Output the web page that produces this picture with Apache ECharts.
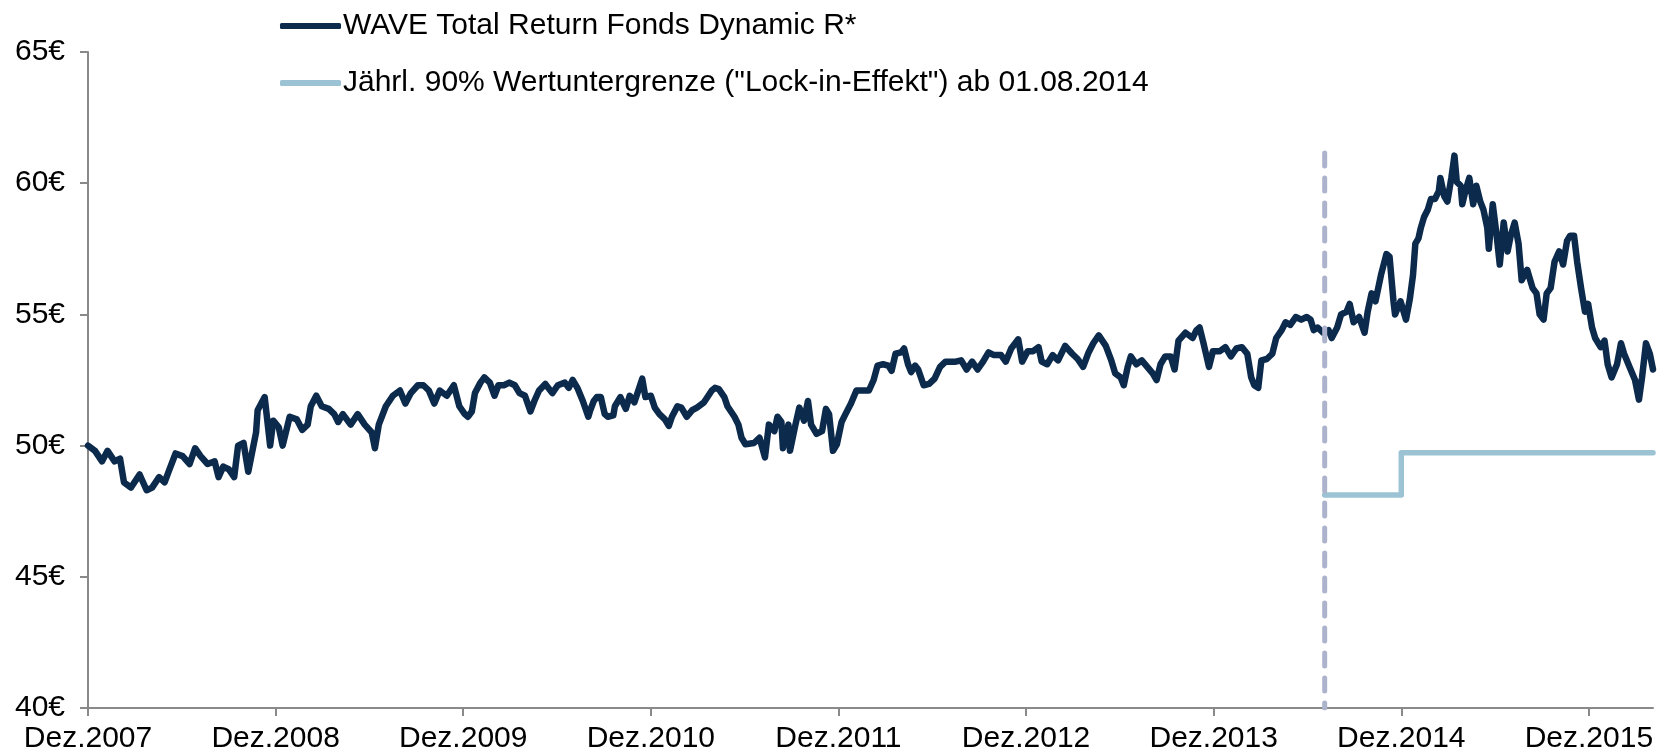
<!DOCTYPE html>
<html>
<head>
<meta charset="utf-8">
<script src="https://cdn.jsdelivr.net/npm/echarts@6/dist/echarts.min.js"></script>
<style>
  html, body { margin: 0; padding: 0; background: #fff; }
  #chart { width: 1669px; height: 755px; }
</style>
</head>
<body>
<div id="chart"></div>
<script>
// x = months after Dez.2007
const xTickMonths = [0, 12, 24, 36, 48, 60, 72, 84, 96];
const xTickLabels = ["Dez.2007", "Dez.2008", "Dez.2009", "Dez.2010", "Dez.2011", "Dez.2012", "Dez.2013", "Dez.2014", "Dez.2015"];
const xMaxMonth = 100.1;

const fundName = "WAVE Total Return Fonds Dynamic R*";
const floorName = 'Jährl. 90% Wertuntergrenze ("Lock-in-Effekt") ab 01.08.2014';

// [month, price in €]
const fundPoints = [
  [0, 50.0], [0.45, 49.8], [0.9, 49.4], [1.25, 49.8], [1.7, 49.4], [2.05, 49.5], [2.3, 48.6], [2.75, 48.4],
  [3.3, 48.9], [3.75, 48.3], [4.1, 48.4], [4.55, 48.8], [4.9, 48.6], [5.15, 49.0], [5.6, 49.7], [6.05, 49.6],
  [6.5, 49.3], [6.85, 49.9], [7.2, 49.6], [7.65, 49.3], [8.1, 49.4], [8.35, 48.8], [8.65, 49.2], [9.0, 49.1],
  [9.35, 48.8], [9.6, 50.0], [9.95, 50.1], [10.25, 49.0], [10.75, 50.5], [10.85, 51.35], [11.3, 51.85], [11.65, 50.0],
  [11.85, 50.95], [12.2, 50.7], [12.45, 50.0], [12.9, 51.1], [13.35, 51.0], [13.7, 50.6], [14.05, 50.8], [14.25, 51.5],
  [14.6, 51.9], [14.95, 51.5], [15.4, 51.4], [15.75, 51.2], [16.0, 50.9], [16.3, 51.2], [16.8, 50.8], [17.25, 51.2],
  [17.7, 50.8], [18.15, 50.5], [18.35, 49.9], [18.6, 50.8], [19.05, 51.5], [19.5, 51.9], [19.95, 52.1], [20.3, 51.6],
  [20.65, 52.0], [21.1, 52.3], [21.45, 52.3], [21.8, 52.1], [22.15, 51.6], [22.5, 52.1], [22.95, 51.9], [23.4, 52.3],
  [23.75, 51.5], [24.1, 51.2], [24.3, 51.1], [24.55, 51.3], [24.75, 52.0], [25.1, 52.4], [25.35, 52.6], [25.7, 52.4],
  [26.0, 51.9], [26.25, 52.3], [26.6, 52.3], [26.95, 52.4], [27.3, 52.3], [27.6, 52.0], [27.95, 51.9], [28.3, 51.3],
  [28.55, 51.7], [28.85, 52.1], [29.25, 52.35], [29.7, 52.0], [30.05, 52.3], [30.5, 52.4], [30.75, 52.2], [31.0, 52.5],
  [31.3, 52.2], [31.65, 51.7], [32.0, 51.1], [32.1, 51.3], [32.35, 51.7], [32.55, 51.85], [32.8, 51.85], [33.05, 51.2],
  [33.25, 51.1], [33.6, 51.15], [33.7, 51.5], [34.05, 51.85], [34.4, 51.4], [34.65, 51.9], [34.95, 51.65], [35.2, 52.1],
  [35.45, 52.55], [35.65, 51.85], [36.0, 51.9], [36.25, 51.45], [36.55, 51.2], [36.9, 51.0], [37.15, 50.75], [37.35, 51.1],
  [37.7, 51.5], [37.95, 51.45], [38.3, 51.1], [38.65, 51.35], [38.95, 51.45], [39.4, 51.65], [39.9, 52.1], [40.1, 52.2],
  [40.35, 52.15], [40.7, 51.85], [40.9, 51.5], [41.35, 51.1], [41.6, 50.8], [41.8, 50.3], [42.05, 50.05], [42.6, 50.1],
  [42.95, 50.3], [43.3, 49.55], [43.55, 50.8], [43.9, 50.55], [44.1, 51.1], [44.35, 50.9], [44.45, 49.9], [44.8, 50.8],
  [44.9, 49.8], [45.25, 50.8], [45.5, 51.45], [45.8, 50.95], [46.05, 51.7], [46.25, 50.8], [46.6, 50.45], [46.95, 50.55],
  [47.2, 51.4], [47.4, 51.2], [47.65, 49.8], [47.9, 50.05], [48.2, 50.9], [48.45, 51.2], [48.8, 51.6], [49.15, 52.1],
  [49.45, 52.1], [49.95, 52.1], [50.25, 52.5], [50.5, 53.05], [50.85, 53.1], [51.2, 53.05], [51.4, 52.85], [51.65, 53.5],
  [52.0, 53.55], [52.2, 53.7], [52.45, 53.1], [52.65, 52.8], [52.9, 53.05], [53.1, 52.9], [53.45, 52.3], [53.8, 52.35],
  [54.15, 52.55], [54.5, 53.0], [54.85, 53.2], [55.2, 53.2], [55.5, 53.2], [55.85, 53.25], [56.2, 52.9], [56.55, 53.2],
  [56.9, 52.9], [57.25, 53.2], [57.6, 53.55], [57.95, 53.45], [58.4, 53.45], [58.7, 53.2], [59.05, 53.7], [59.5, 54.05],
  [59.75, 53.2], [60.1, 53.6], [60.45, 53.6], [60.8, 53.75], [61.0, 53.2], [61.35, 53.1], [61.7, 53.45], [62.05, 53.25],
  [62.5, 53.8], [62.95, 53.5], [63.3, 53.3], [63.65, 53.0], [64.0, 53.55], [64.3, 53.9], [64.65, 54.2], [65.1, 53.8],
  [65.45, 53.25], [65.7, 52.75], [66.05, 52.6], [66.25, 52.3], [66.5, 53.0], [66.7, 53.4], [67.05, 53.1], [67.4, 53.25],
  [67.75, 53.0], [68.1, 52.75], [68.35, 52.5], [68.6, 53.1], [68.9, 53.4], [69.25, 53.4], [69.5, 52.9], [69.75, 54.0],
  [70.2, 54.3], [70.65, 54.1], [70.9, 54.4], [71.1, 54.5], [71.35, 53.9], [71.7, 53.0], [71.95, 53.6], [72.4, 53.6],
  [72.75, 53.75], [73.1, 53.4], [73.45, 53.7], [73.8, 53.75], [74.15, 53.5], [74.4, 52.6], [74.6, 52.3], [74.85, 52.2],
  [75.05, 53.25], [75.4, 53.3], [75.75, 53.5], [76.0, 54.1], [76.35, 54.4], [76.6, 54.7], [76.9, 54.6], [77.25, 54.9],
  [77.6, 54.8], [77.95, 54.9], [78.2, 54.8], [78.4, 54.4], [78.65, 54.5], [79.0, 54.3], [79.35, 54.4], [79.55, 54.1],
  [79.9, 54.5], [80.15, 55.0], [80.5, 55.1], [80.7, 55.4], [80.95, 54.7], [81.3, 54.9], [81.65, 54.3], [81.85, 55.1],
  [82.1, 55.8], [82.35, 55.5], [82.7, 56.5], [83.05, 57.3], [83.25, 57.2], [83.5, 55.5], [83.6, 55.0], [83.95, 55.5],
  [84.3, 54.8], [84.55, 55.6], [84.75, 56.5], [84.9, 57.7], [85.1, 57.9], [85.25, 58.3], [85.45, 58.7], [85.7, 59.0],
  [85.9, 59.4], [86.15, 59.4], [86.4, 59.7], [86.5, 60.2], [86.75, 59.5], [86.95, 59.3], [87.2, 60.2], [87.4, 61.05],
  [87.55, 60.05], [87.8, 59.9], [87.9, 59.2], [88.1, 59.7], [88.35, 60.2], [88.6, 59.2], [88.8, 59.9], [89.05, 59.3],
  [89.25, 59.0], [89.5, 58.3], [89.6, 57.5], [89.85, 59.2], [90.1, 58.0], [90.3, 56.9], [90.55, 58.5], [90.8, 57.4],
  [91.0, 58.0], [91.25, 58.5], [91.5, 57.7], [91.7, 56.3], [92.05, 56.7], [92.4, 56.0], [92.65, 55.8], [92.85, 55.0],
  [93.1, 54.8], [93.3, 55.8], [93.55, 56.0], [93.8, 57.0], [94.1, 57.4], [94.35, 56.9], [94.6, 57.8], [94.8, 58.0],
  [95.05, 58.0], [95.25, 57.0], [95.5, 56.0], [95.75, 55.1], [95.95, 55.4], [96.2, 54.5], [96.4, 54.1], [96.75, 53.75],
  [97.0, 54.0], [97.2, 53.1], [97.45, 52.6], [97.8, 53.1], [98.05, 53.9], [98.25, 53.5], [98.6, 53.0], [98.95, 52.5],
  [99.2, 51.75], [99.4, 52.6], [99.65, 53.9], [99.9, 53.5], [100.1, 52.9]
];

// lock-in floor: 01.08.2014 -> Dez.2014 -> end
const floorMonths = [79.1, 84, 84, 100.1];
const floorValues = [48.12, 48.12, 49.73, 49.73];

// dashed marker at 01.08.2014
const lockInMonth = 79.1;
const lockInRange = [61.15, 40];

const font = "'Liberation Sans', Arial, sans-serif";

let chart = echarts.init(document.getElementById("chart"));

let options = {
  animation: false,
  backgroundColor: "#ffffff",
  grid: {
    left: 88,
    right: 16,
    top: 52,
    bottom: 47
  },
  legend: {
    orient: "vertical",
    left: 275,
    top: 6,
    itemWidth: 61,
    itemHeight: 6,
    itemGap: 27,
    icon: "roundRect",
    data: [fundName, floorName],
    textStyle: {
      color: "#000",
      fontSize: 30,
      lineHeight: 30,
      fontFamily: font,
      padding: [0, 0, 0, -3]
    }
  },
  xAxis: {
    type: "value",
    min: 0,
    max: xMaxMonth,
    interval: 12,
    splitLine: { show: false },
    axisLine: { lineStyle: { color: "#898989", width: 2 } },
    axisTick: {
      length: 8,
      lineStyle: { color: "#898989", width: 2 },
      customValues: xTickMonths
    },
    axisLabel: {
      customValues: xTickMonths,
      margin: 16,
      color: "#000",
      fontSize: 30,
      fontFamily: font,
      formatter: function(v) {
        let i = xTickMonths.indexOf(Math.round(v));
        return i >= 0 ? xTickLabels[i] : "";
      }
    }
  },
  yAxis: {
    type: "value",
    min: 40,
    max: 65,
    interval: 5,
    splitLine: { show: false },
    axisLine: { show: true, lineStyle: { color: "#898989", width: 2 } },
    axisTick: { show: true, length: 8, lineStyle: { color: "#898989", width: 2 } },
    axisLabel: {
      margin: 23,
      color: "#000",
      fontSize: 30,
      fontFamily: font,
      formatter: "{value}€"
    }
  },
  series: [
    {
      name: floorName,
      type: "line",
      symbol: "none",
      color: "#9cc3d4",
      lineStyle: { width: 5.5, color: "#9cc3d4", cap: "round", join: "round" },
      data: floorMonths.map((m, i) => [m, floorValues[i]]),
      z: 2
    },
    {
      name: fundName,
      type: "line",
      symbol: "none",
      color: "#0c2a4c",
      lineStyle: { width: 6.5, color: "#0c2a4c", cap: "round", join: "round" },
      data: fundPoints,
      z: 3
    },
    {
      name: "lockin",
      type: "line",
      symbol: "none",
      silent: true,
      lineStyle: { width: 5, color: "#adb3cc", type: [13, 12], cap: "round" },
      data: lockInRange.map(v => [lockInMonth, v]),
      z: 4
    }
  ]
};

chart.setOption(options, true);
window.onresize = function() {
  chart.resize();
};
</script>
</body>
</html>
